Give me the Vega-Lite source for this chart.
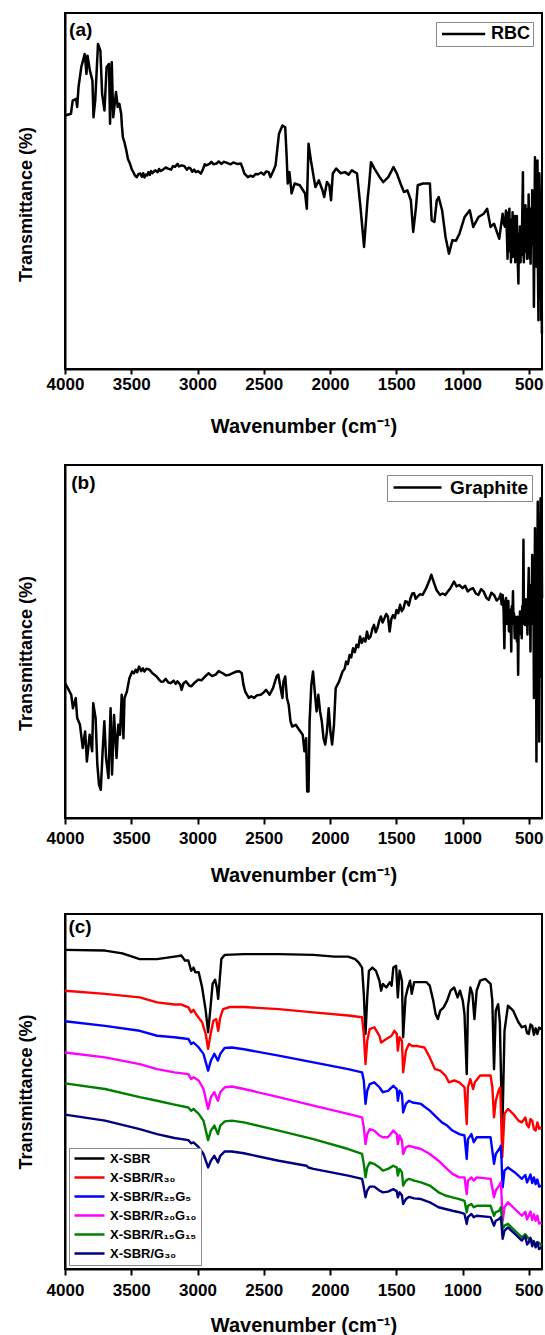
{
  "$schema": "https://vega.github.io/schema/vega-lite/v6.json",
  "padding": {"left": 16, "top": 12, "right": 2, "bottom": 0},
  "spacing": 27,
  "datasets": {
    "rbc": [
      {"wn":4000,"T":71.2},{"wn":3955,"T":71.7},{"wn":3942,"T":75.4},{"wn":3916,"T":75.9},{"wn":3908,"T":73.6},{"wn":3898,"T":79.2},{"wn":3877,"T":84.8},{"wn":3851,"T":88.5},{"wn":3838,"T":82.9},{"wn":3830,"T":88.0},{"wn":3812,"T":83.8},{"wn":3793,"T":81.0},{"wn":3785,"T":70.7},{"wn":3772,"T":75.4},{"wn":3751,"T":91.3},{"wn":3733,"T":89.4},{"wn":3720,"T":77.3},{"wn":3702,"T":72.6},{"wn":3686,"T":84.8},{"wn":3668,"T":85.7},{"wn":3660,"T":68.9},{"wn":3647,"T":86.2},{"wn":3636,"T":70.7},{"wn":3615,"T":77.8},{"wn":3602,"T":73.6},{"wn":3590,"T":74.5},{"wn":3576,"T":71.7},{"wn":3570,"T":68.0},{"wn":3563,"T":65.1},{"wn":3550,"T":63.5},{"wn":3537,"T":61.4},{"wn":3525,"T":59.0},{"wn":3510,"T":57.7},{"wn":3495,"T":56.0},{"wn":3484,"T":55.3},{"wn":3470,"T":54.2},{"wn":3458,"T":53.9},{"wn":3445,"T":54.8},{"wn":3432,"T":54.9},{"wn":3420,"T":54.0},{"wn":3410,"T":55.0},{"wn":3400,"T":53.8},{"wn":3390,"T":54.6},{"wn":3380,"T":54.4},{"wn":3370,"T":55.3},{"wn":3360,"T":54.5},{"wn":3350,"T":55.6},{"wn":3340,"T":55.0},{"wn":3320,"T":55.8},{"wn":3301,"T":55.3},{"wn":3290,"T":56.2},{"wn":3280,"T":55.6},{"wn":3260,"T":56.0},{"wn":3240,"T":56.6},{"wn":3222,"T":56.3},{"wn":3200,"T":56.0},{"wn":3185,"T":57.0},{"wn":3170,"T":56.8},{"wn":3150,"T":57.6},{"wn":3140,"T":56.9},{"wn":3118,"T":57.2},{"wn":3100,"T":57.0},{"wn":3080,"T":56.0},{"wn":3065,"T":56.6},{"wn":3052,"T":56.3},{"wn":3040,"T":55.4},{"wn":3025,"T":56.0},{"wn":3013,"T":55.3},{"wn":2995,"T":55.6},{"wn":2974,"T":54.9},{"wn":2960,"T":56.0},{"wn":2945,"T":57.5},{"wn":2934,"T":57.2},{"wn":2910,"T":57.6},{"wn":2895,"T":58.2},{"wn":2880,"T":57.5},{"wn":2856,"T":57.7},{"wn":2840,"T":58.3},{"wn":2820,"T":57.6},{"wn":2800,"T":58.2},{"wn":2777,"T":57.9},{"wn":2750,"T":57.5},{"wn":2730,"T":58.0},{"wn":2700,"T":57.6},{"wn":2673,"T":57.7},{"wn":2660,"T":56.5},{"wn":2646,"T":54.9},{"wn":2620,"T":53.9},{"wn":2600,"T":54.3},{"wn":2580,"T":54.0},{"wn":2560,"T":54.8},{"wn":2542,"T":54.7},{"wn":2520,"T":55.2},{"wn":2500,"T":54.6},{"wn":2480,"T":55.5},{"wn":2463,"T":55.3},{"wn":2450,"T":53.9},{"wn":2430,"T":55.5},{"wn":2411,"T":57.2},{"wn":2385,"T":66.1},{"wn":2359,"T":68.4},{"wn":2338,"T":67.9},{"wn":2327,"T":59.5},{"wn":2319,"T":52.1},{"wn":2306,"T":55.3},{"wn":2290,"T":49.3},{"wn":2267,"T":52.1},{"wn":2228,"T":51.6},{"wn":2188,"T":49.3},{"wn":2175,"T":45.0},{"wn":2162,"T":63.3},{"wn":2144,"T":58.6},{"wn":2123,"T":53.9},{"wn":2110,"T":51.1},{"wn":2084,"T":53.0},{"wn":2057,"T":50.2},{"wn":2044,"T":48.3},{"wn":2023,"T":52.5},{"wn":2005,"T":51.6},{"wn":1992,"T":47.4},{"wn":1979,"T":54.9},{"wn":1953,"T":56.3},{"wn":1920,"T":55.0},{"wn":1887,"T":55.3},{"wn":1860,"T":54.6},{"wn":1835,"T":55.8},{"wn":1796,"T":54.9},{"wn":1770,"T":45.5},{"wn":1743,"T":34.3},{"wn":1717,"T":47.4},{"wn":1704,"T":52.1},{"wn":1691,"T":58.1},{"wn":1665,"T":56.3},{"wn":1625,"T":53.9},{"wn":1599,"T":52.5},{"wn":1560,"T":53.9},{"wn":1521,"T":56.7},{"wn":1495,"T":54.9},{"wn":1468,"T":52.1},{"wn":1442,"T":49.7},{"wn":1416,"T":50.2},{"wn":1390,"T":47.4},{"wn":1372,"T":38.5},{"wn":1351,"T":45.5},{"wn":1338,"T":51.6},{"wn":1298,"T":52.1},{"wn":1246,"T":52.1},{"wn":1233,"T":41.8},{"wn":1212,"T":41.3},{"wn":1194,"T":47.4},{"wn":1180,"T":48.3},{"wn":1154,"T":44.6},{"wn":1128,"T":37.1},{"wn":1102,"T":32.4},{"wn":1076,"T":36.2},{"wn":1050,"T":36.0},{"wn":1023,"T":38.0},{"wn":984,"T":42.7},{"wn":945,"T":44.6},{"wn":919,"T":39.9},{"wn":879,"T":42.7},{"wn":840,"T":43.6},{"wn":814,"T":45.0},{"wn":788,"T":39.9},{"wn":762,"T":40.8},{"wn":723,"T":36.6},{"wn":697,"T":43.6},{"wn":690,"T":41.0},{"wn":680,"T":40.0},{"wn":672,"T":44.5},{"wn":665,"T":38.0},{"wn":660,"T":31.0},{"wn":655,"T":44.0},{"wn":650,"T":36.0},{"wn":646,"T":45.0},{"wn":642,"T":33.0},{"wn":638,"T":42.0},{"wn":634,"T":30.0},{"wn":630,"T":41.0},{"wn":626,"T":35.0},{"wn":622,"T":44.0},{"wn":618,"T":31.5},{"wn":614,"T":40.0},{"wn":610,"T":34.0},{"wn":606,"T":43.0},{"wn":602,"T":30.0},{"wn":598,"T":39.0},{"wn":594,"T":33.0},{"wn":590,"T":43.0},{"wn":586,"T":36.0},{"wn":582,"T":29.0},{"wn":578,"T":24.0},{"wn":574,"T":38.0},{"wn":570,"T":33.0},{"wn":566,"T":40.0},{"wn":562,"T":30.0},{"wn":558,"T":38.0},{"wn":554,"T":32.0},{"wn":550,"T":41.0},{"wn":546,"T":50.0},{"wn":544,"T":55.3},{"wn":541,"T":36.0},{"wn":537,"T":30.0},{"wn":533,"T":42.0},{"wn":529,"T":35.0},{"wn":525,"T":46.0},{"wn":521,"T":33.0},{"wn":517,"T":40.0},{"wn":513,"T":31.0},{"wn":509,"T":45.0},{"wn":505,"T":34.0},{"wn":501,"T":49.0},{"wn":497,"T":38.0},{"wn":493,"T":31.0},{"wn":489,"T":45.0},{"wn":486,"T":29.6},{"wn":482,"T":41.0},{"wn":478,"T":35.0},{"wn":474,"T":50.2},{"wn":470,"T":38.0},{"wn":466,"T":44.0},{"wn":461,"T":17.5},{"wn":457,"T":40.0},{"wn":453,"T":59.5},{"wn":449,"T":35.0},{"wn":446,"T":47.0},{"wn":442,"T":28.7},{"wn":438,"T":52.0},{"wn":434,"T":58.6},{"wn":431,"T":30.0},{"wn":427,"T":13.7},{"wn":424,"T":40.0},{"wn":420,"T":55.0},{"wn":416,"T":47.4},{"wn":412,"T":20.0},{"wn":409,"T":45.0},{"wn":406,"T":13.7},{"wn":403,"T":30.0},{"wn":401,"T":10.0}
    ],
    "graphite": [
      {"wn":4000,"T":38.2},{"wn":3979,"T":36.8},{"wn":3953,"T":34.9},{"wn":3940,"T":31.1},{"wn":3919,"T":34.0},{"wn":3908,"T":28.3},{"wn":3887,"T":26.4},{"wn":3866,"T":19.8},{"wn":3848,"T":24.5},{"wn":3835,"T":16.0},{"wn":3814,"T":23.6},{"wn":3795,"T":18.9},{"wn":3787,"T":32.5},{"wn":3769,"T":28.3},{"wn":3756,"T":15.1},{"wn":3743,"T":9.4},{"wn":3730,"T":8.0},{"wn":3716,"T":18.9},{"wn":3703,"T":27.4},{"wn":3690,"T":17.0},{"wn":3672,"T":11.3},{"wn":3656,"T":31.1},{"wn":3645,"T":12.3},{"wn":3630,"T":29.2},{"wn":3611,"T":17.0},{"wn":3598,"T":26.4},{"wn":3585,"T":23.6},{"wn":3572,"T":34.9},{"wn":3559,"T":22.6},{"wn":3551,"T":34.0},{"wn":3533,"T":35.8},{"wn":3514,"T":39.6},{"wn":3493,"T":41.5},{"wn":3480,"T":41.0},{"wn":3467,"T":42.0},{"wn":3455,"T":41.3},{"wn":3441,"T":42.9},{"wn":3425,"T":41.6},{"wn":3412,"T":42.4},{"wn":3401,"T":41.5},{"wn":3385,"T":42.3},{"wn":3362,"T":42.0},{"wn":3340,"T":41.0},{"wn":3325,"T":40.6},{"wn":3309,"T":40.1},{"wn":3290,"T":39.2},{"wn":3275,"T":38.6},{"wn":3257,"T":38.7},{"wn":3240,"T":39.4},{"wn":3220,"T":38.4},{"wn":3204,"T":38.2},{"wn":3180,"T":38.9},{"wn":3165,"T":38.0},{"wn":3152,"T":38.7},{"wn":3130,"T":37.8},{"wn":3120,"T":36.3},{"wn":3105,"T":38.2},{"wn":3086,"T":38.7},{"wn":3065,"T":37.6},{"wn":3047,"T":37.3},{"wn":3020,"T":38.4},{"wn":2994,"T":39.2},{"wn":2970,"T":39.0},{"wn":2942,"T":40.1},{"wn":2916,"T":41.0},{"wn":2890,"T":40.2},{"wn":2863,"T":40.6},{"wn":2840,"T":41.6},{"wn":2810,"T":41.0},{"wn":2785,"T":40.4},{"wn":2758,"T":40.6},{"wn":2730,"T":41.1},{"wn":2705,"T":41.5},{"wn":2685,"T":41.6},{"wn":2666,"T":41.0},{"wn":2653,"T":37.7},{"wn":2640,"T":35.8},{"wn":2613,"T":34.0},{"wn":2595,"T":34.5},{"wn":2574,"T":34.0},{"wn":2550,"T":34.8},{"wn":2522,"T":34.9},{"wn":2500,"T":35.6},{"wn":2482,"T":36.3},{"wn":2456,"T":34.9},{"wn":2430,"T":36.8},{"wn":2403,"T":40.1},{"wn":2390,"T":40.6},{"wn":2377,"T":37.7},{"wn":2359,"T":34.0},{"wn":2351,"T":38.7},{"wn":2338,"T":40.1},{"wn":2325,"T":34.0},{"wn":2312,"T":32.1},{"wn":2298,"T":27.4},{"wn":2285,"T":25.9},{"wn":2259,"T":26.4},{"wn":2233,"T":25.0},{"wn":2206,"T":23.6},{"wn":2193,"T":18.9},{"wn":2180,"T":22.6},{"wn":2172,"T":7.5},{"wn":2162,"T":7.5},{"wn":2154,"T":27.4},{"wn":2141,"T":37.7},{"wn":2128,"T":41.5},{"wn":2115,"T":35.8},{"wn":2101,"T":30.2},{"wn":2088,"T":34.9},{"wn":2075,"T":30.2},{"wn":2062,"T":27.4},{"wn":2049,"T":22.6},{"wn":2036,"T":20.8},{"wn":2023,"T":24.5},{"wn":2010,"T":31.1},{"wn":1997,"T":24.5},{"wn":1984,"T":20.8},{"wn":1970,"T":26.4},{"wn":1957,"T":36.8},{"wn":1931,"T":38.7},{"wn":1905,"T":41.5},{"wn":1890,"T":42.2},{"wn":1878,"T":44.3},{"wn":1865,"T":43.6},{"wn":1852,"T":46.2},{"wn":1840,"T":45.5},{"wn":1826,"T":48.1},{"wn":1812,"T":47.0},{"wn":1800,"T":49.1},{"wn":1786,"T":48.4},{"wn":1773,"T":51.4},{"wn":1760,"T":49.6},{"wn":1747,"T":50.9},{"wn":1733,"T":50.0},{"wn":1721,"T":52.8},{"wn":1708,"T":50.8},{"wn":1694,"T":51.4},{"wn":1680,"T":53.6},{"wn":1668,"T":54.7},{"wn":1655,"T":52.6},{"wn":1642,"T":53.8},{"wn":1628,"T":55.9},{"wn":1616,"T":57.1},{"wn":1603,"T":55.4},{"wn":1589,"T":56.6},{"wn":1576,"T":57.8},{"wn":1563,"T":57.1},{"wn":1550,"T":52.8},{"wn":1537,"T":56.4},{"wn":1524,"T":57.5},{"wn":1511,"T":56.6},{"wn":1498,"T":58.9},{"wn":1485,"T":58.0},{"wn":1471,"T":60.4},{"wn":1458,"T":58.6},{"wn":1445,"T":59.4},{"wn":1432,"T":61.4},{"wn":1419,"T":61.3},{"wn":1405,"T":60.2},{"wn":1392,"T":62.3},{"wn":1379,"T":63.6},{"wn":1366,"T":63.7},{"wn":1353,"T":62.1},{"wn":1340,"T":62.7},{"wn":1320,"T":63.4},{"wn":1301,"T":63.2},{"wn":1274,"T":65.1},{"wn":1248,"T":67.5},{"wn":1235,"T":68.9},{"wn":1214,"T":66.5},{"wn":1196,"T":64.6},{"wn":1170,"T":63.2},{"wn":1150,"T":63.6},{"wn":1130,"T":63.2},{"wn":1110,"T":64.2},{"wn":1091,"T":65.1},{"wn":1064,"T":67.0},{"wn":1045,"T":65.6},{"wn":1025,"T":66.0},{"wn":999,"T":65.1},{"wn":980,"T":65.8},{"wn":960,"T":64.2},{"wn":940,"T":64.8},{"wn":920,"T":65.1},{"wn":900,"T":63.6},{"wn":880,"T":63.2},{"wn":860,"T":64.8},{"wn":841,"T":64.2},{"wn":820,"T":62.4},{"wn":802,"T":61.8},{"wn":782,"T":63.8},{"wn":762,"T":63.2},{"wn":742,"T":61.6},{"wn":723,"T":62.3},{"wn":712,"T":63.5},{"wn":705,"T":60.5},{"wn":697,"T":63.2},{"wn":690,"T":59.0},{"wn":684,"T":48.1},{"wn":678,"T":61.0},{"wn":671,"T":62.3},{"wn":666,"T":55.0},{"wn":662,"T":60.0},{"wn":658,"T":56.6},{"wn":654,"T":61.5},{"wn":650,"T":53.0},{"wn":645,"T":52.8},{"wn":641,"T":59.0},{"wn":636,"T":55.0},{"wn":632,"T":47.2},{"wn":628,"T":60.0},{"wn":624,"T":56.0},{"wn":619,"T":64.2},{"wn":615,"T":55.0},{"wn":611,"T":58.0},{"wn":606,"T":50.9},{"wn":602,"T":57.0},{"wn":597,"T":52.0},{"wn":593,"T":56.6},{"wn":589,"T":50.0},{"wn":585,"T":57.0},{"wn":580,"T":40.6},{"wn":576,"T":55.0},{"wn":571,"T":52.0},{"wn":566,"T":58.5},{"wn":562,"T":53.0},{"wn":557,"T":58.0},{"wn":553,"T":50.9},{"wn":549,"T":60.0},{"wn":544,"T":56.0},{"wn":540,"T":78.8},{"wn":536,"T":55.0},{"wn":531,"T":60.0},{"wn":527,"T":54.7},{"wn":523,"T":62.0},{"wn":518,"T":57.0},{"wn":514,"T":60.4},{"wn":510,"T":52.0},{"wn":505,"T":62.0},{"wn":500,"T":70.8},{"wn":496,"T":56.0},{"wn":492,"T":64.0},{"wn":487,"T":47.2},{"wn":483,"T":66.0},{"wn":478,"T":55.0},{"wn":474,"T":74.5},{"wn":470,"T":58.0},{"wn":465,"T":68.0},{"wn":461,"T":34.0},{"wn":457,"T":60.0},{"wn":453,"T":82.1},{"wn":449,"T":55.0},{"wn":446,"T":70.0},{"wn":442,"T":16.0},{"wn":437,"T":60.0},{"wn":432,"T":89.6},{"wn":428,"T":55.0},{"wn":425,"T":75.0},{"wn":421,"T":21.7},{"wn":416,"T":70.0},{"wn":411,"T":90.6},{"wn":407,"T":40.0},{"wn":403,"T":88.0},{"wn":400,"T":62.3}
    ],
    "sbr": [
      {"sample":"X-SBR","wn":4000,"T":89.9},{"sample":"X-SBR","wn":3698,"T":89.7},{"sample":"X-SBR","wn":3567,"T":88.9},{"sample":"X-SBR","wn":3436,"T":87.3},{"sample":"X-SBR","wn":3305,"T":87.3},{"sample":"X-SBR","wn":3174,"T":88.0},{"sample":"X-SBR","wn":3122,"T":88.3},{"sample":"X-SBR","wn":3095,"T":86.9},{"sample":"X-SBR","wn":3069,"T":86.9},{"sample":"X-SBR","wn":3048,"T":84.0},{"sample":"X-SBR","wn":3030,"T":84.9},{"sample":"X-SBR","wn":3017,"T":83.6},{"sample":"X-SBR","wn":2991,"T":83.6},{"sample":"X-SBR","wn":2965,"T":79.3},{"sample":"X-SBR","wn":2938,"T":72.8},{"sample":"X-SBR","wn":2920,"T":66.7},{"sample":"X-SBR","wn":2904,"T":72.8},{"sample":"X-SBR","wn":2886,"T":80.3},{"sample":"X-SBR","wn":2867,"T":81.5},{"sample":"X-SBR","wn":2854,"T":79.3},{"sample":"X-SBR","wn":2844,"T":76.1},{"sample":"X-SBR","wn":2833,"T":81.2},{"sample":"X-SBR","wn":2820,"T":87.3},{"sample":"X-SBR","wn":2794,"T":88.5},{"sample":"X-SBR","wn":2650,"T":88.7},{"sample":"X-SBR","wn":2387,"T":88.7},{"sample":"X-SBR","wn":2125,"T":88.5},{"sample":"X-SBR","wn":1968,"T":88.0},{"sample":"X-SBR","wn":1863,"T":88.0},{"sample":"X-SBR","wn":1810,"T":87.3},{"sample":"X-SBR","wn":1785,"T":86.4},{"sample":"X-SBR","wn":1758,"T":84.9},{"sample":"X-SBR","wn":1745,"T":77.5},{"sample":"X-SBR","wn":1732,"T":66.2},{"sample":"X-SBR","wn":1719,"T":76.5},{"sample":"X-SBR","wn":1706,"T":84.0},{"sample":"X-SBR","wn":1680,"T":84.9},{"sample":"X-SBR","wn":1653,"T":84.0},{"sample":"X-SBR","wn":1627,"T":81.2},{"sample":"X-SBR","wn":1614,"T":78.4},{"sample":"X-SBR","wn":1601,"T":80.3},{"sample":"X-SBR","wn":1575,"T":79.3},{"sample":"X-SBR","wn":1548,"T":80.8},{"sample":"X-SBR","wn":1535,"T":79.8},{"sample":"X-SBR","wn":1522,"T":84.9},{"sample":"X-SBR","wn":1501,"T":85.4},{"sample":"X-SBR","wn":1488,"T":76.5},{"sample":"X-SBR","wn":1475,"T":84.0},{"sample":"X-SBR","wn":1457,"T":81.2},{"sample":"X-SBR","wn":1448,"T":65.3},{"sample":"X-SBR","wn":1430,"T":76.5},{"sample":"X-SBR","wn":1412,"T":79.3},{"sample":"X-SBR","wn":1396,"T":81.2},{"sample":"X-SBR","wn":1383,"T":77.5},{"sample":"X-SBR","wn":1365,"T":80.8},{"sample":"X-SBR","wn":1313,"T":80.8},{"sample":"X-SBR","wn":1273,"T":80.8},{"sample":"X-SBR","wn":1247,"T":79.8},{"sample":"X-SBR","wn":1221,"T":75.6},{"sample":"X-SBR","wn":1203,"T":71.8},{"sample":"X-SBR","wn":1186,"T":70.4},{"sample":"X-SBR","wn":1168,"T":72.8},{"sample":"X-SBR","wn":1142,"T":73.7},{"sample":"X-SBR","wn":1116,"T":75.6},{"sample":"X-SBR","wn":1090,"T":78.4},{"sample":"X-SBR","wn":1063,"T":79.3},{"sample":"X-SBR","wn":1037,"T":76.5},{"sample":"X-SBR","wn":1019,"T":78.4},{"sample":"X-SBR","wn":998,"T":75.6},{"sample":"X-SBR","wn":985,"T":71.8},{"sample":"X-SBR","wn":968,"T":54.9},{"sample":"X-SBR","wn":959,"T":73.7},{"sample":"X-SBR","wn":941,"T":79.3},{"sample":"X-SBR","wn":925,"T":77.5},{"sample":"X-SBR","wn":910,"T":70.4},{"sample":"X-SBR","wn":893,"T":78.4},{"sample":"X-SBR","wn":867,"T":81.2},{"sample":"X-SBR","wn":828,"T":81.7},{"sample":"X-SBR","wn":788,"T":80.3},{"sample":"X-SBR","wn":775,"T":75.6},{"sample":"X-SBR","wn":762,"T":56.3},{"sample":"X-SBR","wn":749,"T":72.8},{"sample":"X-SBR","wn":731,"T":74.6},{"sample":"X-SBR","wn":718,"T":69.5},{"sample":"X-SBR","wn":700,"T":37.9},{"sample":"X-SBR","wn":683,"T":67.1},{"sample":"X-SBR","wn":657,"T":74.2},{"sample":"X-SBR","wn":618,"T":72.8},{"sample":"X-SBR","wn":578,"T":69.5},{"sample":"X-SBR","wn":552,"T":68.1},{"sample":"X-SBR","wn":526,"T":68.5},{"sample":"X-SBR","wn":513,"T":66.5},{"sample":"X-SBR","wn":500,"T":66.2},{"sample":"X-SBR","wn":487,"T":68.9},{"sample":"X-SBR","wn":474,"T":68.5},{"sample":"X-SBR","wn":461,"T":66.0},{"sample":"X-SBR","wn":448,"T":67.8},{"sample":"X-SBR","wn":435,"T":66.2},{"sample":"X-SBR","wn":422,"T":68.0},{"sample":"X-SBR","wn":403,"T":67.6},

      {"sample":"X-SBR/R₃₀","wn":4000,"T":78.4},{"sample":"X-SBR/R₃₀","wn":3698,"T":77.5},{"sample":"X-SBR/R₃₀","wn":3436,"T":76.5},{"sample":"X-SBR/R₃₀","wn":3305,"T":75.1},{"sample":"X-SBR/R₃₀","wn":3174,"T":74.5},{"sample":"X-SBR/R₃₀","wn":3122,"T":74.5},{"sample":"X-SBR/R₃₀","wn":3069,"T":73.7},{"sample":"X-SBR/R₃₀","wn":3048,"T":72.3},{"sample":"X-SBR/R₃₀","wn":3030,"T":73.0},{"sample":"X-SBR/R₃₀","wn":3004,"T":71.4},{"sample":"X-SBR/R₃₀","wn":2965,"T":69.5},{"sample":"X-SBR/R₃₀","wn":2938,"T":66.2},{"sample":"X-SBR/R₃₀","wn":2920,"T":62.0},{"sample":"X-SBR/R₃₀","wn":2901,"T":66.2},{"sample":"X-SBR/R₃₀","wn":2880,"T":69.9},{"sample":"X-SBR/R₃₀","wn":2859,"T":70.4},{"sample":"X-SBR/R₃₀","wn":2844,"T":67.1},{"sample":"X-SBR/R₃₀","wn":2828,"T":70.9},{"sample":"X-SBR/R₃₀","wn":2807,"T":73.2},{"sample":"X-SBR/R₃₀","wn":2755,"T":73.8},{"sample":"X-SBR/R₃₀","wn":2650,"T":73.8},{"sample":"X-SBR/R₃₀","wn":2387,"T":73.2},{"sample":"X-SBR/R₃₀","wn":2125,"T":72.3},{"sample":"X-SBR/R₃₀","wn":1863,"T":71.4},{"sample":"X-SBR/R₃₀","wn":1758,"T":70.9},{"sample":"X-SBR/R₃₀","wn":1745,"T":66.2},{"sample":"X-SBR/R₃₀","wn":1732,"T":57.7},{"sample":"X-SBR/R₃₀","wn":1719,"T":64.3},{"sample":"X-SBR/R₃₀","wn":1700,"T":67.6},{"sample":"X-SBR/R₃₀","wn":1666,"T":68.1},{"sample":"X-SBR/R₃₀","wn":1627,"T":65.7},{"sample":"X-SBR/R₃₀","wn":1614,"T":63.8},{"sample":"X-SBR/R₃₀","wn":1575,"T":64.8},{"sample":"X-SBR/R₃₀","wn":1535,"T":65.7},{"sample":"X-SBR/R₃₀","wn":1514,"T":67.1},{"sample":"X-SBR/R₃₀","wn":1496,"T":66.2},{"sample":"X-SBR/R₃₀","wn":1488,"T":61.5},{"sample":"X-SBR/R₃₀","wn":1475,"T":65.3},{"sample":"X-SBR/R₃₀","wn":1457,"T":64.3},{"sample":"X-SBR/R₃₀","wn":1448,"T":55.4},{"sample":"X-SBR/R₃₀","wn":1427,"T":61.5},{"sample":"X-SBR/R₃₀","wn":1404,"T":63.4},{"sample":"X-SBR/R₃₀","wn":1378,"T":62.8},{"sample":"X-SBR/R₃₀","wn":1339,"T":62.8},{"sample":"X-SBR/R₃₀","wn":1287,"T":62.4},{"sample":"X-SBR/R₃₀","wn":1247,"T":59.6},{"sample":"X-SBR/R₃₀","wn":1208,"T":56.3},{"sample":"X-SBR/R₃₀","wn":1168,"T":55.9},{"sample":"X-SBR/R₃₀","wn":1129,"T":54.5},{"sample":"X-SBR/R₃₀","wn":1103,"T":52.6},{"sample":"X-SBR/R₃₀","wn":1063,"T":53.1},{"sample":"X-SBR/R₃₀","wn":1024,"T":52.6},{"sample":"X-SBR/R₃₀","wn":985,"T":51.2},{"sample":"X-SBR/R₃₀","wn":968,"T":40.8},{"sample":"X-SBR/R₃₀","wn":959,"T":51.2},{"sample":"X-SBR/R₃₀","wn":941,"T":53.5},{"sample":"X-SBR/R₃₀","wn":920,"T":50.7},{"sample":"X-SBR/R₃₀","wn":907,"T":52.6},{"sample":"X-SBR/R₃₀","wn":867,"T":54.5},{"sample":"X-SBR/R₃₀","wn":788,"T":54.5},{"sample":"X-SBR/R₃₀","wn":775,"T":51.2},{"sample":"X-SBR/R₃₀","wn":762,"T":42.7},{"sample":"X-SBR/R₃₀","wn":749,"T":47.4},{"sample":"X-SBR/R₃₀","wn":728,"T":50.2},{"sample":"X-SBR/R₃₀","wn":715,"T":51.2},{"sample":"X-SBR/R₃₀","wn":700,"T":31.5},{"sample":"X-SBR/R₃₀","wn":683,"T":43.7},{"sample":"X-SBR/R₃₀","wn":657,"T":45.1},{"sample":"X-SBR/R₃₀","wn":618,"T":43.7},{"sample":"X-SBR/R₃₀","wn":578,"T":41.8},{"sample":"X-SBR/R₃₀","wn":552,"T":41.3},{"sample":"X-SBR/R₃₀","wn":526,"T":42.7},{"sample":"X-SBR/R₃₀","wn":513,"T":40.6},{"sample":"X-SBR/R₃₀","wn":500,"T":39.9},{"sample":"X-SBR/R₃₀","wn":487,"T":42.2},{"sample":"X-SBR/R₃₀","wn":474,"T":41.8},{"sample":"X-SBR/R₃₀","wn":461,"T":39.4},{"sample":"X-SBR/R₃₀","wn":448,"T":39.0},{"sample":"X-SBR/R₃₀","wn":435,"T":41.3},{"sample":"X-SBR/R₃₀","wn":422,"T":39.5},{"sample":"X-SBR/R₃₀","wn":403,"T":39.9},

      {"sample":"X-SBR/R₂₅G₅","wn":4000,"T":69.8},{"sample":"X-SBR/R₂₅G₅","wn":3698,"T":68.5},{"sample":"X-SBR/R₂₅G₅","wn":3436,"T":67.1},{"sample":"X-SBR/R₂₅G₅","wn":3305,"T":65.7},{"sample":"X-SBR/R₂₅G₅","wn":3174,"T":65.3},{"sample":"X-SBR/R₂₅G₅","wn":3069,"T":64.8},{"sample":"X-SBR/R₂₅G₅","wn":3048,"T":63.4},{"sample":"X-SBR/R₂₅G₅","wn":3030,"T":63.8},{"sample":"X-SBR/R₂₅G₅","wn":2991,"T":62.4},{"sample":"X-SBR/R₂₅G₅","wn":2955,"T":60.6},{"sample":"X-SBR/R₂₅G₅","wn":2920,"T":55.9},{"sample":"X-SBR/R₂₅G₅","wn":2899,"T":58.7},{"sample":"X-SBR/R₂₅G₅","wn":2873,"T":60.6},{"sample":"X-SBR/R₂₅G₅","wn":2846,"T":58.7},{"sample":"X-SBR/R₂₅G₅","wn":2828,"T":60.6},{"sample":"X-SBR/R₂₅G₅","wn":2794,"T":62.3},{"sample":"X-SBR/R₂₅G₅","wn":2741,"T":62.4},{"sample":"X-SBR/R₂₅G₅","wn":2650,"T":61.9},{"sample":"X-SBR/R₂₅G₅","wn":2387,"T":60.1},{"sample":"X-SBR/R₂₅G₅","wn":2125,"T":58.2},{"sample":"X-SBR/R₂₅G₅","wn":1863,"T":56.3},{"sample":"X-SBR/R₂₅G₅","wn":1758,"T":55.4},{"sample":"X-SBR/R₂₅G₅","wn":1745,"T":53.1},{"sample":"X-SBR/R₂₅G₅","wn":1732,"T":46.5},{"sample":"X-SBR/R₂₅G₅","wn":1719,"T":50.2},{"sample":"X-SBR/R₂₅G₅","wn":1700,"T":52.1},{"sample":"X-SBR/R₂₅G₅","wn":1666,"T":52.6},{"sample":"X-SBR/R₂₅G₅","wn":1627,"T":51.2},{"sample":"X-SBR/R₂₅G₅","wn":1601,"T":49.8},{"sample":"X-SBR/R₂₅G₅","wn":1562,"T":50.2},{"sample":"X-SBR/R₂₅G₅","wn":1522,"T":51.6},{"sample":"X-SBR/R₂₅G₅","wn":1496,"T":50.7},{"sample":"X-SBR/R₂₅G₅","wn":1488,"T":47.4},{"sample":"X-SBR/R₂₅G₅","wn":1475,"T":50.2},{"sample":"X-SBR/R₂₅G₅","wn":1457,"T":49.3},{"sample":"X-SBR/R₂₅G₅","wn":1448,"T":44.1},{"sample":"X-SBR/R₂₅G₅","wn":1427,"T":46.5},{"sample":"X-SBR/R₂₅G₅","wn":1404,"T":47.4},{"sample":"X-SBR/R₂₅G₅","wn":1378,"T":46.9},{"sample":"X-SBR/R₂₅G₅","wn":1313,"T":46.5},{"sample":"X-SBR/R₂₅G₅","wn":1247,"T":44.6},{"sample":"X-SBR/R₂₅G₅","wn":1195,"T":42.7},{"sample":"X-SBR/R₂₅G₅","wn":1156,"T":41.3},{"sample":"X-SBR/R₂₅G₅","wn":1116,"T":40.4},{"sample":"X-SBR/R₂₅G₅","wn":1076,"T":39.0},{"sample":"X-SBR/R₂₅G₅","wn":1024,"T":38.0},{"sample":"X-SBR/R₂₅G₅","wn":985,"T":37.6},{"sample":"X-SBR/R₂₅G₅","wn":968,"T":31.0},{"sample":"X-SBR/R₂₅G₅","wn":959,"T":36.6},{"sample":"X-SBR/R₂₅G₅","wn":933,"T":38.0},{"sample":"X-SBR/R₂₅G₅","wn":915,"T":35.7},{"sample":"X-SBR/R₂₅G₅","wn":893,"T":37.1},{"sample":"X-SBR/R₂₅G₅","wn":788,"T":37.1},{"sample":"X-SBR/R₂₅G₅","wn":762,"T":29.6},{"sample":"X-SBR/R₂₅G₅","wn":749,"T":32.4},{"sample":"X-SBR/R₂₅G₅","wn":723,"T":33.8},{"sample":"X-SBR/R₂₅G₅","wn":710,"T":34.7},{"sample":"X-SBR/R₂₅G₅","wn":697,"T":23.0},{"sample":"X-SBR/R₂₅G₅","wn":683,"T":27.7},{"sample":"X-SBR/R₂₅G₅","wn":657,"T":28.6},{"sample":"X-SBR/R₂₅G₅","wn":605,"T":27.2},{"sample":"X-SBR/R₂₅G₅","wn":552,"T":25.4},{"sample":"X-SBR/R₂₅G₅","wn":526,"T":26.5},{"sample":"X-SBR/R₂₅G₅","wn":513,"T":24.4},{"sample":"X-SBR/R₂₅G₅","wn":500,"T":25.4},{"sample":"X-SBR/R₂₅G₅","wn":487,"T":26.6},{"sample":"X-SBR/R₂₅G₅","wn":474,"T":24.2},{"sample":"X-SBR/R₂₅G₅","wn":461,"T":25.8},{"sample":"X-SBR/R₂₅G₅","wn":448,"T":23.9},{"sample":"X-SBR/R₂₅G₅","wn":435,"T":25.2},{"sample":"X-SBR/R₂₅G₅","wn":422,"T":23.2},{"sample":"X-SBR/R₂₅G₅","wn":403,"T":23.5},

      {"sample":"X-SBR/R₂₀G₁₀","wn":4000,"T":61.0},{"sample":"X-SBR/R₂₀G₁₀","wn":3698,"T":59.6},{"sample":"X-SBR/R₂₀G₁₀","wn":3436,"T":57.7},{"sample":"X-SBR/R₂₀G₁₀","wn":3305,"T":56.3},{"sample":"X-SBR/R₂₀G₁₀","wn":3174,"T":55.4},{"sample":"X-SBR/R₂₀G₁₀","wn":3069,"T":54.9},{"sample":"X-SBR/R₂₀G₁₀","wn":3048,"T":53.5},{"sample":"X-SBR/R₂₀G₁₀","wn":3030,"T":54.0},{"sample":"X-SBR/R₂₀G₁₀","wn":2991,"T":53.1},{"sample":"X-SBR/R₂₀G₁₀","wn":2955,"T":50.7},{"sample":"X-SBR/R₂₀G₁₀","wn":2920,"T":45.1},{"sample":"X-SBR/R₂₀G₁₀","wn":2899,"T":48.4},{"sample":"X-SBR/R₂₀G₁₀","wn":2873,"T":49.8},{"sample":"X-SBR/R₂₀G₁₀","wn":2846,"T":47.4},{"sample":"X-SBR/R₂₀G₁₀","wn":2828,"T":49.8},{"sample":"X-SBR/R₂₀G₁₀","wn":2794,"T":51.2},{"sample":"X-SBR/R₂₀G₁₀","wn":2741,"T":51.4},{"sample":"X-SBR/R₂₀G₁₀","wn":2650,"T":50.7},{"sample":"X-SBR/R₂₀G₁₀","wn":2387,"T":48.4},{"sample":"X-SBR/R₂₀G₁₀","wn":2125,"T":46.0},{"sample":"X-SBR/R₂₀G₁₀","wn":1863,"T":43.7},{"sample":"X-SBR/R₂₀G₁₀","wn":1758,"T":42.7},{"sample":"X-SBR/R₂₀G₁₀","wn":1745,"T":39.9},{"sample":"X-SBR/R₂₀G₁₀","wn":1732,"T":35.2},{"sample":"X-SBR/R₂₀G₁₀","wn":1719,"T":38.0},{"sample":"X-SBR/R₂₀G₁₀","wn":1700,"T":39.4},{"sample":"X-SBR/R₂₀G₁₀","wn":1666,"T":39.0},{"sample":"X-SBR/R₂₀G₁₀","wn":1627,"T":37.6},{"sample":"X-SBR/R₂₀G₁₀","wn":1601,"T":37.1},{"sample":"X-SBR/R₂₀G₁₀","wn":1562,"T":37.1},{"sample":"X-SBR/R₂₀G₁₀","wn":1522,"T":39.0},{"sample":"X-SBR/R₂₀G₁₀","wn":1496,"T":38.0},{"sample":"X-SBR/R₂₀G₁₀","wn":1488,"T":35.2},{"sample":"X-SBR/R₂₀G₁₀","wn":1475,"T":37.6},{"sample":"X-SBR/R₂₀G₁₀","wn":1457,"T":36.2},{"sample":"X-SBR/R₂₀G₁₀","wn":1448,"T":32.4},{"sample":"X-SBR/R₂₀G₁₀","wn":1427,"T":34.3},{"sample":"X-SBR/R₂₀G₁₀","wn":1404,"T":34.7},{"sample":"X-SBR/R₂₀G₁₀","wn":1365,"T":34.3},{"sample":"X-SBR/R₂₀G₁₀","wn":1313,"T":33.8},{"sample":"X-SBR/R₂₀G₁₀","wn":1247,"T":32.4},{"sample":"X-SBR/R₂₀G₁₀","wn":1181,"T":30.5},{"sample":"X-SBR/R₂₀G₁₀","wn":1129,"T":28.6},{"sample":"X-SBR/R₂₀G₁₀","wn":1076,"T":26.8},{"sample":"X-SBR/R₂₀G₁₀","wn":1024,"T":25.8},{"sample":"X-SBR/R₂₀G₁₀","wn":985,"T":25.8},{"sample":"X-SBR/R₂₀G₁₀","wn":968,"T":21.1},{"sample":"X-SBR/R₂₀G₁₀","wn":959,"T":24.9},{"sample":"X-SBR/R₂₀G₁₀","wn":933,"T":25.8},{"sample":"X-SBR/R₂₀G₁₀","wn":915,"T":24.9},{"sample":"X-SBR/R₂₀G₁₀","wn":893,"T":25.8},{"sample":"X-SBR/R₂₀G₁₀","wn":788,"T":25.4},{"sample":"X-SBR/R₂₀G₁₀","wn":762,"T":20.2},{"sample":"X-SBR/R₂₀G₁₀","wn":749,"T":22.1},{"sample":"X-SBR/R₂₀G₁₀","wn":723,"T":23.5},{"sample":"X-SBR/R₂₀G₁₀","wn":710,"T":24.4},{"sample":"X-SBR/R₂₀G₁₀","wn":697,"T":13.6},{"sample":"X-SBR/R₂₀G₁₀","wn":683,"T":17.4},{"sample":"X-SBR/R₂₀G₁₀","wn":657,"T":18.8},{"sample":"X-SBR/R₂₀G₁₀","wn":605,"T":16.9},{"sample":"X-SBR/R₂₀G₁₀","wn":552,"T":15.0},{"sample":"X-SBR/R₂₀G₁₀","wn":526,"T":16.1},{"sample":"X-SBR/R₂₀G₁₀","wn":513,"T":14.0},{"sample":"X-SBR/R₂₀G₁₀","wn":500,"T":15.0},{"sample":"X-SBR/R₂₀G₁₀","wn":487,"T":16.2},{"sample":"X-SBR/R₂₀G₁₀","wn":474,"T":13.8},{"sample":"X-SBR/R₂₀G₁₀","wn":461,"T":15.4},{"sample":"X-SBR/R₂₀G₁₀","wn":448,"T":13.6},{"sample":"X-SBR/R₂₀G₁₀","wn":435,"T":15.0},{"sample":"X-SBR/R₂₀G₁₀","wn":422,"T":12.8},{"sample":"X-SBR/R₂₀G₁₀","wn":403,"T":13.1},

      {"sample":"X-SBR/R₁₅G₁₅","wn":4000,"T":52.3},{"sample":"X-SBR/R₁₅G₁₅","wn":3698,"T":50.7},{"sample":"X-SBR/R₁₅G₁₅","wn":3436,"T":48.4},{"sample":"X-SBR/R₁₅G₁₅","wn":3305,"T":47.4},{"sample":"X-SBR/R₁₅G₁₅","wn":3174,"T":46.3},{"sample":"X-SBR/R₁₅G₁₅","wn":3069,"T":45.5},{"sample":"X-SBR/R₁₅G₁₅","wn":3048,"T":44.6},{"sample":"X-SBR/R₁₅G₁₅","wn":3030,"T":45.1},{"sample":"X-SBR/R₁₅G₁₅","wn":2991,"T":43.7},{"sample":"X-SBR/R₁₅G₁₅","wn":2955,"T":41.8},{"sample":"X-SBR/R₁₅G₁₅","wn":2920,"T":36.3},{"sample":"X-SBR/R₁₅G₁₅","wn":2899,"T":39.0},{"sample":"X-SBR/R₁₅G₁₅","wn":2873,"T":40.4},{"sample":"X-SBR/R₁₅G₁₅","wn":2846,"T":38.0},{"sample":"X-SBR/R₁₅G₁₅","wn":2828,"T":40.4},{"sample":"X-SBR/R₁₅G₁₅","wn":2794,"T":41.6},{"sample":"X-SBR/R₁₅G₁₅","wn":2741,"T":41.8},{"sample":"X-SBR/R₁₅G₁₅","wn":2650,"T":41.3},{"sample":"X-SBR/R₁₅G₁₅","wn":2387,"T":39.0},{"sample":"X-SBR/R₁₅G₁₅","wn":2125,"T":36.6},{"sample":"X-SBR/R₁₅G₁₅","wn":1863,"T":33.8},{"sample":"X-SBR/R₁₅G₁₅","wn":1758,"T":32.4},{"sample":"X-SBR/R₁₅G₁₅","wn":1745,"T":29.6},{"sample":"X-SBR/R₁₅G₁₅","wn":1732,"T":25.8},{"sample":"X-SBR/R₁₅G₁₅","wn":1719,"T":28.6},{"sample":"X-SBR/R₁₅G₁₅","wn":1700,"T":30.0},{"sample":"X-SBR/R₁₅G₁₅","wn":1666,"T":29.6},{"sample":"X-SBR/R₁₅G₁₅","wn":1627,"T":28.6},{"sample":"X-SBR/R₁₅G₁₅","wn":1601,"T":27.7},{"sample":"X-SBR/R₁₅G₁₅","wn":1562,"T":28.2},{"sample":"X-SBR/R₁₅G₁₅","wn":1522,"T":29.1},{"sample":"X-SBR/R₁₅G₁₅","wn":1496,"T":28.6},{"sample":"X-SBR/R₁₅G₁₅","wn":1488,"T":26.3},{"sample":"X-SBR/R₁₅G₁₅","wn":1475,"T":28.2},{"sample":"X-SBR/R₁₅G₁₅","wn":1457,"T":27.2},{"sample":"X-SBR/R₁₅G₁₅","wn":1448,"T":23.5},{"sample":"X-SBR/R₁₅G₁₅","wn":1427,"T":24.9},{"sample":"X-SBR/R₁₅G₁₅","wn":1404,"T":25.4},{"sample":"X-SBR/R₁₅G₁₅","wn":1365,"T":24.9},{"sample":"X-SBR/R₁₅G₁₅","wn":1313,"T":24.4},{"sample":"X-SBR/R₁₅G₁₅","wn":1247,"T":23.5},{"sample":"X-SBR/R₁₅G₁₅","wn":1181,"T":21.6},{"sample":"X-SBR/R₁₅G₁₅","wn":1129,"T":20.7},{"sample":"X-SBR/R₁₅G₁₅","wn":1076,"T":20.2},{"sample":"X-SBR/R₁₅G₁₅","wn":1024,"T":19.7},{"sample":"X-SBR/R₁₅G₁₅","wn":985,"T":19.2},{"sample":"X-SBR/R₁₅G₁₅","wn":968,"T":16.0},{"sample":"X-SBR/R₁₅G₁₅","wn":959,"T":17.8},{"sample":"X-SBR/R₁₅G₁₅","wn":933,"T":18.3},{"sample":"X-SBR/R₁₅G₁₅","wn":915,"T":17.4},{"sample":"X-SBR/R₁₅G₁₅","wn":893,"T":17.8},{"sample":"X-SBR/R₁₅G₁₅","wn":788,"T":17.8},{"sample":"X-SBR/R₁₅G₁₅","wn":762,"T":15.0},{"sample":"X-SBR/R₁₅G₁₅","wn":749,"T":16.0},{"sample":"X-SBR/R₁₅G₁₅","wn":723,"T":16.4},{"sample":"X-SBR/R₁₅G₁₅","wn":710,"T":17.4},{"sample":"X-SBR/R₁₅G₁₅","wn":697,"T":11.3},{"sample":"X-SBR/R₁₅G₁₅","wn":683,"T":12.2},{"sample":"X-SBR/R₁₅G₁₅","wn":657,"T":12.7},{"sample":"X-SBR/R₁₅G₁₅","wn":605,"T":10.8},{"sample":"X-SBR/R₁₅G₁₅","wn":552,"T":8.9},{"sample":"X-SBR/R₁₅G₁₅","wn":526,"T":9.8},{"sample":"X-SBR/R₁₅G₁₅","wn":500,"T":8.5},{"sample":"X-SBR/R₁₅G₁₅","wn":474,"T":8.0},{"sample":"X-SBR/R₁₅G₁₅","wn":448,"T":7.0},{"sample":"X-SBR/R₁₅G₁₅","wn":422,"T":7.4},{"sample":"X-SBR/R₁₅G₁₅","wn":403,"T":6.6},

      {"sample":"X-SBR/G₃₀","wn":4000,"T":43.5},{"sample":"X-SBR/G₃₀","wn":3698,"T":41.8},{"sample":"X-SBR/G₃₀","wn":3436,"T":39.4},{"sample":"X-SBR/G₃₀","wn":3305,"T":38.0},{"sample":"X-SBR/G₃₀","wn":3174,"T":36.9},{"sample":"X-SBR/G₃₀","wn":3069,"T":36.3},{"sample":"X-SBR/G₃₀","wn":3048,"T":35.4},{"sample":"X-SBR/G₃₀","wn":3030,"T":35.7},{"sample":"X-SBR/G₃₀","wn":2991,"T":34.3},{"sample":"X-SBR/G₃₀","wn":2955,"T":32.4},{"sample":"X-SBR/G₃₀","wn":2920,"T":28.6},{"sample":"X-SBR/G₃₀","wn":2899,"T":30.5},{"sample":"X-SBR/G₃₀","wn":2873,"T":31.9},{"sample":"X-SBR/G₃₀","wn":2846,"T":30.0},{"sample":"X-SBR/G₃₀","wn":2828,"T":31.9},{"sample":"X-SBR/G₃₀","wn":2794,"T":33.1},{"sample":"X-SBR/G₃₀","wn":2741,"T":33.1},{"sample":"X-SBR/G₃₀","wn":2650,"T":32.6},{"sample":"X-SBR/G₃₀","wn":2387,"T":30.5},{"sample":"X-SBR/G₃₀","wn":2177,"T":29.1},{"sample":"X-SBR/G₃₀","wn":2164,"T":28.6},{"sample":"X-SBR/G₃₀","wn":2125,"T":28.2},{"sample":"X-SBR/G₃₀","wn":1863,"T":26.3},{"sample":"X-SBR/G₃₀","wn":1758,"T":25.4},{"sample":"X-SBR/G₃₀","wn":1745,"T":23.0},{"sample":"X-SBR/G₃₀","wn":1732,"T":20.2},{"sample":"X-SBR/G₃₀","wn":1719,"T":22.1},{"sample":"X-SBR/G₃₀","wn":1700,"T":23.2},{"sample":"X-SBR/G₃₀","wn":1666,"T":23.2},{"sample":"X-SBR/G₃₀","wn":1627,"T":22.1},{"sample":"X-SBR/G₃₀","wn":1601,"T":21.6},{"sample":"X-SBR/G₃₀","wn":1562,"T":21.8},{"sample":"X-SBR/G₃₀","wn":1522,"T":22.5},{"sample":"X-SBR/G₃₀","wn":1496,"T":21.9},{"sample":"X-SBR/G₃₀","wn":1488,"T":20.2},{"sample":"X-SBR/G₃₀","wn":1475,"T":21.6},{"sample":"X-SBR/G₃₀","wn":1457,"T":20.7},{"sample":"X-SBR/G₃₀","wn":1448,"T":18.3},{"sample":"X-SBR/G₃₀","wn":1427,"T":19.7},{"sample":"X-SBR/G₃₀","wn":1404,"T":20.3},{"sample":"X-SBR/G₃₀","wn":1365,"T":19.9},{"sample":"X-SBR/G₃₀","wn":1313,"T":19.7},{"sample":"X-SBR/G₃₀","wn":1247,"T":18.8},{"sample":"X-SBR/G₃₀","wn":1181,"T":17.4},{"sample":"X-SBR/G₃₀","wn":1129,"T":16.9},{"sample":"X-SBR/G₃₀","wn":1076,"T":16.4},{"sample":"X-SBR/G₃₀","wn":1024,"T":16.0},{"sample":"X-SBR/G₃₀","wn":985,"T":15.5},{"sample":"X-SBR/G₃₀","wn":968,"T":12.7},{"sample":"X-SBR/G₃₀","wn":959,"T":14.6},{"sample":"X-SBR/G₃₀","wn":933,"T":15.5},{"sample":"X-SBR/G₃₀","wn":915,"T":14.6},{"sample":"X-SBR/G₃₀","wn":893,"T":15.0},{"sample":"X-SBR/G₃₀","wn":788,"T":14.6},{"sample":"X-SBR/G₃₀","wn":762,"T":12.2},{"sample":"X-SBR/G₃₀","wn":749,"T":13.6},{"sample":"X-SBR/G₃₀","wn":723,"T":14.1},{"sample":"X-SBR/G₃₀","wn":710,"T":14.6},{"sample":"X-SBR/G₃₀","wn":697,"T":8.5},{"sample":"X-SBR/G₃₀","wn":683,"T":10.8},{"sample":"X-SBR/G₃₀","wn":657,"T":11.7},{"sample":"X-SBR/G₃₀","wn":605,"T":9.9},{"sample":"X-SBR/G₃₀","wn":552,"T":8.0},{"sample":"X-SBR/G₃₀","wn":526,"T":9.2},{"sample":"X-SBR/G₃₀","wn":513,"T":6.9},{"sample":"X-SBR/G₃₀","wn":500,"T":7.5},{"sample":"X-SBR/G₃₀","wn":487,"T":8.8},{"sample":"X-SBR/G₃₀","wn":474,"T":6.4},{"sample":"X-SBR/G₃₀","wn":461,"T":7.8},{"sample":"X-SBR/G₃₀","wn":448,"T":6.1},{"sample":"X-SBR/G₃₀","wn":435,"T":7.6},{"sample":"X-SBR/G₃₀","wn":422,"T":5.6},{"sample":"X-SBR/G₃₀","wn":403,"T":6.1}
    ]
  },
  "vconcat": [
    {
      "width": 477,
      "height": 356,
      "layer": [
        {
          "data": {"name": "rbc"},
          "transform": [{"calculate": "'RBC'", "as": "sample"}],
          "mark": {"type": "line", "strokeWidth": 2.5, "strokeJoin": "round"},
          "encoding": {
            "x": {"field": "wn", "type": "quantitative", "scale": {"domain": [4000, 400], "nice": false, "zero": false},
              "axis": {"title": "Wavenumber (cm⁻¹)", "values": [4000, 3750, 3500, 3250, 3000, 2750, 2500, 2250, 2000, 1750, 1500, 1250, 1000, 750, 500],
                "labelExpr": "datum.value % 500 === 0 ? datum.label : ''", "format": "d",
                "tickSize": {"condition": {"test": "datum.value % 500 === 0", "value": 5}, "value": 3},
                "labelPadding": 2, "titlePadding": 24}},
            "y": {"field": "T", "type": "quantitative", "scale": {"domain": [0, 100], "nice": false, "zero": false},
              "axis": {"title": "Transmittance (%)", "titleY": 191}},
            "color": {"field": "sample", "type": "nominal", "scale": {"domain": ["RBC"], "range": ["#000000"]},
              "legend": {"title": null, "orient": "top-right", "offset": 9, "labelFontSize": 18,
                "symbolType": "M-1,0H6.2", "symbolSize": 144, "labelOffset": 34, "padding": 3}}
          }
        },
        {
          "data": {"values": [{"wn": 3969, "T": 95.2, "panel": "(a)"}]},
          "mark": {"type": "text", "align": "left", "baseline": "middle", "fontSize": 19, "fontWeight": "bold", "font": "Liberation Sans", "color": "#000"},
          "encoding": {"x": {"field": "wn", "type": "quantitative"}, "y": {"field": "T", "type": "quantitative"}, "text": {"field": "panel"}}
        }
      ]
    },
    {
      "width": 477,
      "height": 353,
      "layer": [
        {
          "data": {"name": "graphite"},
          "transform": [{"calculate": "'Graphite'", "as": "sample"}],
          "mark": {"type": "line", "strokeWidth": 2.5, "strokeJoin": "round"},
          "encoding": {
            "x": {"field": "wn", "type": "quantitative", "scale": {"domain": [4000, 400], "nice": false, "zero": false},
              "axis": {"title": "Wavenumber (cm⁻¹)", "values": [4000, 3750, 3500, 3250, 3000, 2750, 2500, 2250, 2000, 1750, 1500, 1250, 1000, 750, 500],
                "labelExpr": "datum.value % 500 === 0 ? datum.label : ''", "format": "d",
                "tickSize": {"condition": {"test": "datum.value % 500 === 0", "value": 6}, "value": 3},
                "labelPadding": 6, "titlePadding": 19}},
            "y": {"field": "T", "type": "quantitative", "scale": {"domain": [0, 100], "nice": false, "zero": false},
              "axis": {"title": "Transmittance (%)", "titleY": 188}},
            "color": {"field": "sample", "type": "nominal", "scale": {"domain": ["Graphite"], "range": ["#000000"]},
              "legend": {"title": null, "orient": "top-right", "offset": 10, "labelFontSize": 19,
                "symbolType": "M-1,0H7", "symbolSize": 144, "labelOffset": 41, "padding": 3}}
          }
        },
        {
          "data": {"values": [{"wn": 3953, "T": 94.8, "panel": "(b)"}]},
          "mark": {"type": "text", "align": "left", "baseline": "middle", "fontSize": 19, "fontWeight": "bold", "font": "Liberation Sans", "color": "#000"},
          "encoding": {"x": {"field": "wn", "type": "quantitative"}, "y": {"field": "T", "type": "quantitative"}, "text": {"field": "panel"}}
        }
      ]
    },
    {
      "width": 477,
      "height": 355,
      "layer": [
        {
          "data": {"name": "sbr"},
          "mark": {"type": "line", "strokeWidth": 2.4, "strokeJoin": "round"},
          "encoding": {
            "x": {"field": "wn", "type": "quantitative", "scale": {"domain": [4000, 400], "nice": false, "zero": false},
              "axis": {"title": "Wavenumber (cm⁻¹)", "values": [4000, 3750, 3500, 3250, 3000, 2750, 2500, 2250, 2000, 1750, 1500, 1250, 1000, 750, 500],
                "labelExpr": "datum.value % 500 === 0 ? datum.label : ''", "format": "d",
                "tickSize": {"condition": {"test": "datum.value % 500 === 0", "value": 6}, "value": 4},
                "labelPadding": 7, "titlePadding": 17}},
            "y": {"field": "T", "type": "quantitative", "scale": {"domain": [0, 100], "nice": false, "zero": false},
              "axis": {"title": "Transmittance (%)"}},
            "color": {"field": "sample", "type": "nominal",
              "scale": {"domain": ["X-SBR", "X-SBR/R₃₀", "X-SBR/R₂₅G₅", "X-SBR/R₂₀G₁₀", "X-SBR/R₁₅G₁₅", "X-SBR/G₃₀"],
                "range": ["#000000", "#ff0000", "#0000ff", "#ff00ff", "#008000", "#000080"]},
              "legend": {"title": null, "orient": "bottom-left", "offset": 4, "labelFontSize": 13, "rowPadding": 5, "padding": 4,
                "symbolType": "M-1,0H5", "symbolSize": 100, "labelOffset": 24}}
          }
        },
        {
          "data": {"values": [{"wn": 3974, "T": 96.2, "panel": "(c)"}]},
          "mark": {"type": "text", "align": "left", "baseline": "middle", "fontSize": 19, "fontWeight": "bold", "font": "Liberation Sans", "color": "#000"},
          "encoding": {"x": {"field": "wn", "type": "quantitative"}, "y": {"field": "T", "type": "quantitative"}, "text": {"field": "panel"}}
        }
      ]
    }
  ],
  "resolve": {"scale": {"color": "independent", "x": "independent", "y": "independent"}, "legend": {"color": "independent"}},
  "config": {
    "view": {"stroke": "#000000", "strokeWidth": 2},
    "font": "Liberation Sans",
    "axis": {
      "grid": false, "domainColor": "#000000", "domainWidth": 2, "tickColor": "#000000", "tickWidth": 2,
      "labelColor": "#000000", "titleColor": "#000000", "labelFont": "Liberation Sans", "titleFont": "Liberation Sans",
      "labelFontWeight": "bold", "titleFontWeight": "bold"
    },
    "axisX": {"labelFontSize": 17, "titleFontSize": 20, "labelFlush": false, "labelOverlap": false, "labelBound": false},
    "axisY": {"labels": false, "ticks": false, "titleFontSize": 18, "titleX": -30},
    "legend": {
      "symbolStrokeWidth": 2.5, "symbolFillColor": "transparent", "labelFont": "Liberation Sans", "labelFontWeight": "bold",
      "labelColor": "#000000", "strokeColor": "#888888", "fillColor": "#ffffff", "cornerRadius": 0
    }
  }
}
